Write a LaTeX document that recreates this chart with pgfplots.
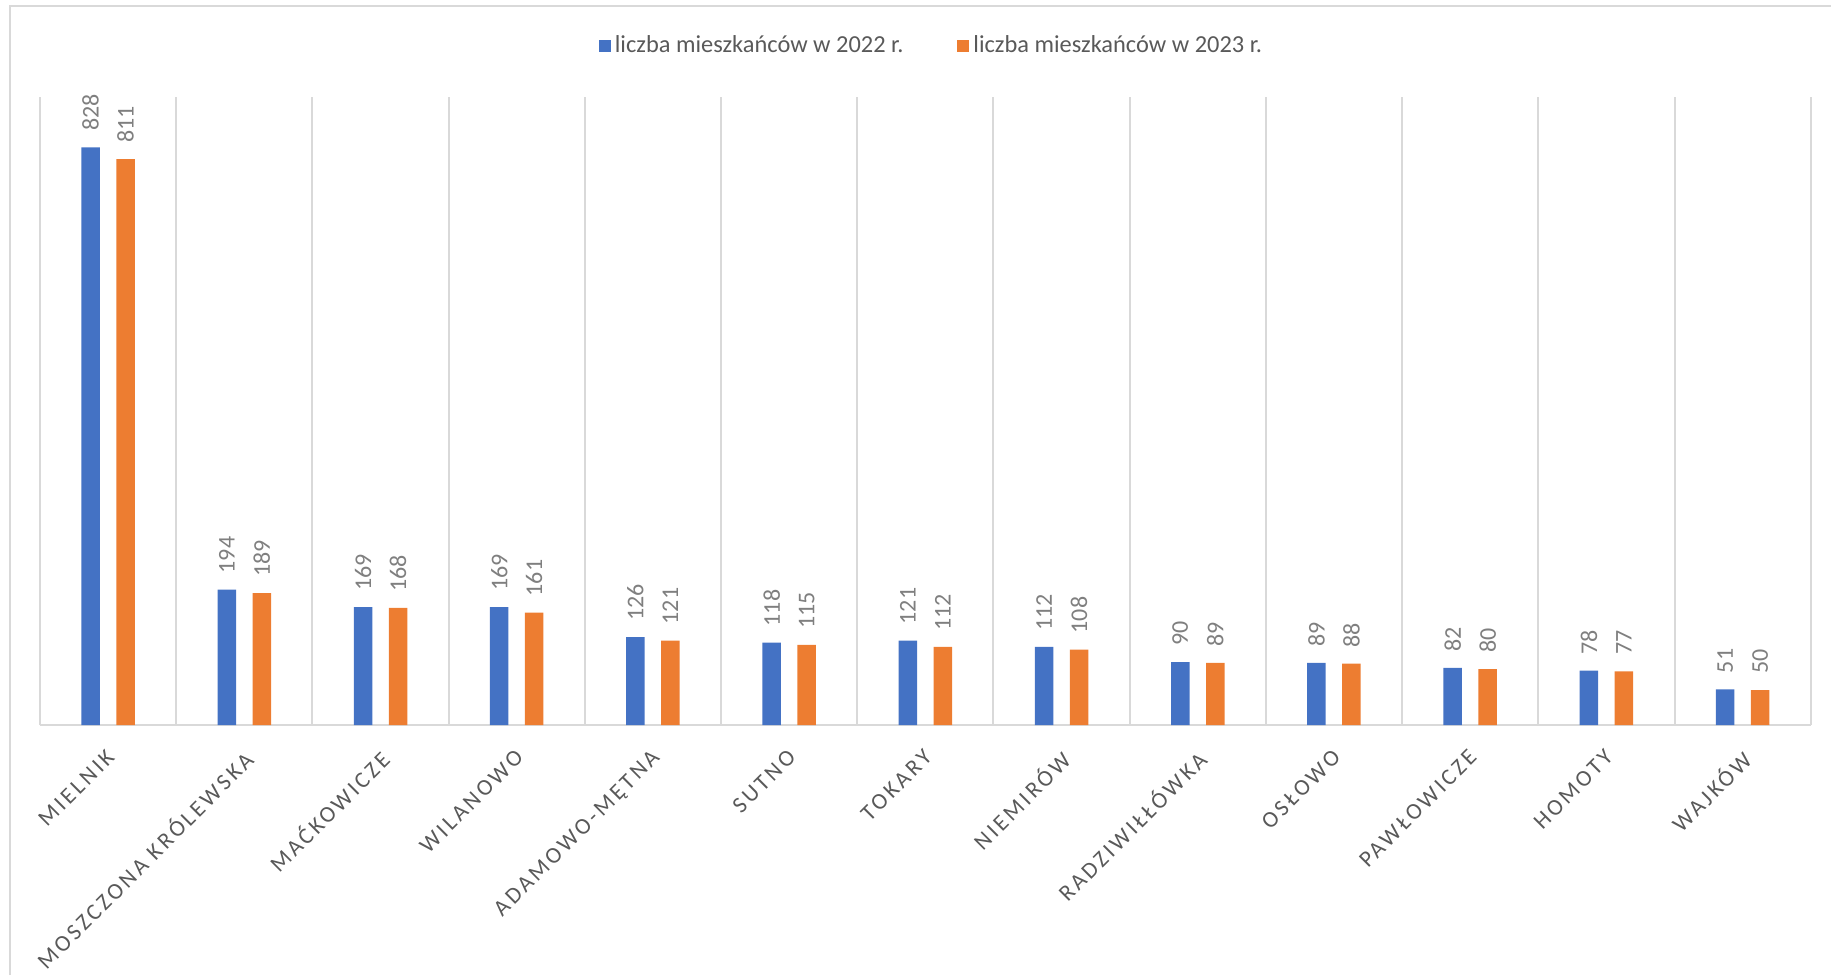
\documentclass[border=0pt]{standalone}
\usepackage{fontspec}
\setmainfont{Carlito}
\newfontfamily\tickfont[LetterSpace=13]{Carlito}
\usepackage{pgfplots}
\pgfplotsset{compat=1.18}
\definecolor{blue22}{HTML}{4472C4}
\definecolor{orange23}{HTML}{ED7D31}
\definecolor{gridgray}{HTML}{D9D9D9}
\definecolor{labgray}{HTML}{595959}
\definecolor{datagray}{HTML}{7F7F7F}
\begin{document}
\begin{tikzpicture}
\path[use as bounding box] (0,0) rectangle (915.5pt,487.5pt);
\draw[gridgray, line width=1pt] (5pt,0) -- (5pt,484.25pt) -- (915.5pt,484.25pt);
\begin{axis}[
  at={(20pt,125pt)}, anchor=south west,
  scale only axis, width=885.35pt, height=314pt,
  ybar=8.25pt, bar width=9.25pt,
  xmin=-0.5, xmax=12.5, ymin=0, ymax=900,
  enlargelimits=false,
  axis x line*=bottom, axis y line=none,
  x axis line style={-, gridgray, line width=1pt},
  xtick=data,
  xticklabels={MIELNIK, MOSZCZONA KRÓLEWSKA, MAĆKOWICZE, WILANOWO, ADAMOWO-MĘTNA, SUTNO, TOKARY, NIEMIRÓW, RADZIWIŁŁÓWKA, OSŁOWO, PAWŁOWICZE, HOMOTY, WAJKÓW},
  minor xtick={-0.5,0.5,...,12.5},
  xminorgrids,
  minor grid style={gridgray, line width=1pt},
  major tick length=0pt, minor tick length=0pt,
  ytick=\empty,
  xticklabel shift=10pt,
  xticklabel style={rotate=45, anchor=north east, inner sep=0pt, xshift=-2pt, font=\tickfont\fontsize{11.5pt}{14pt}\selectfont, text=labgray},
  /pgf/number format/assume math mode=true,
  nodes near coords,
  every node near coord/.append style={shift={(0pt,8pt)}, rotate=90, anchor=west, inner sep=0pt, font=\fontsize{12pt}{14pt}\selectfont, text=datagray},
  legend columns=2,
  legend style={at={(0.504,1.082)}, anchor=center, draw=none, fill=none, font=\fontsize{12.2pt}{14pt}\selectfont, text=labgray, /tikz/every even column/.append style={column sep=25pt}, inner sep=0pt},
  legend image code/.code={\path[#1, draw=none] (0pt,-3pt) rectangle (6pt,3pt);},
]
\addplot[fill=blue22, draw=none] coordinates {(0,828) (1,194) (2,169) (3,169) (4,126) (5,118) (6,121) (7,112) (8,90) (9,89) (10,82) (11,78) (12,51)};
\addplot[fill=orange23, draw=none] coordinates {(0,811) (1,189) (2,168) (3,161) (4,121) (5,115) (6,112) (7,108) (8,89) (9,88) (10,80) (11,77) (12,50)};
\legend{liczba mieszkańców w 2022 r., liczba mieszkańców w 2023 r.}
\end{axis}
\end{tikzpicture}
\end{document}
